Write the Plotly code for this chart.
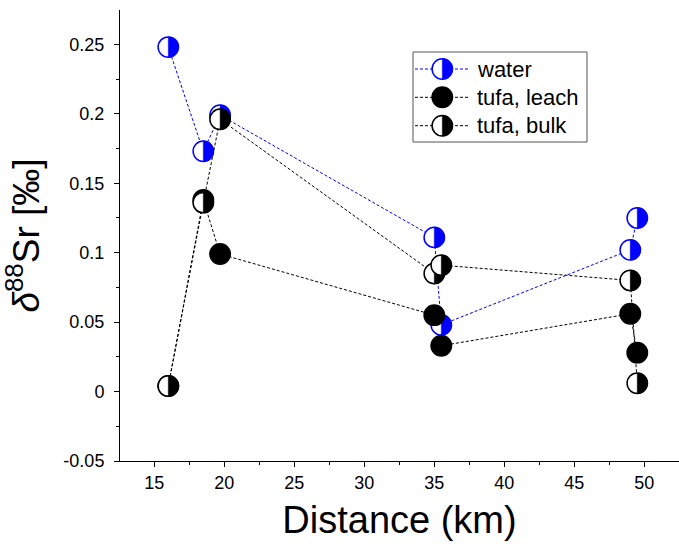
import plotly.graph_objects as go

# ---- data ----
distance_km = [16, 18.5, 19.7, 35, 35.5, 49, 49.5]
water = [0.248, 0.173, 0.199, 0.111, 0.048, 0.102, 0.125]
tufa_leach = [0.004, 0.138, 0.099, 0.055, 0.033, 0.056, 0.028]
tufa_bulk = [0.004, 0.136, 0.196, 0.085, 0.091, 0.080, 0.006]

series_names = ["water", "tufa, leach", "tufa, bulk"]
series_values = [water, tufa_leach, tufa_bulk]
series_colors = ["#0000FF", "#000000", "#000000"]
series_style = ["half", "full", "half"]

x_tickvals = [15, 20, 25, 30, 35, 40, 45, 50]
x_ticktext = ["15", "20", "25", "30", "35", "40", "45", "50"]
y_tickvals = [-0.05, 0, 0.05, 0.1, 0.15, 0.2, 0.25]
y_ticktext = ["-0.05", "0", "0.05", "0.1", "0.15", "0.2", "0.25"]

# ---- layout geometry ----
W, H = 679, 549
ML, MR, MT, MB = 120, 0, 10, 88
PW, PH = W - ML - MR, H - MT - MB
FONT = "Liberation Sans, Arial, sans-serif"
R = 10.2          # marker radius (px)
LW = 1.5          # marker outline width
DASH = "3px,2px"


def px_x(px):
    return (px - ML) / PW


def px_y(py):
    return (H - MB - py) / PH


def marker_shapes(xa, ya, xref, yref, color, style):
    k = 0.5523 * R
    out = []
    fill = color if style == "full" else "white"
    out.append(dict(type="circle", xref=xref, yref=yref,
                    xsizemode="pixel", ysizemode="pixel",
                    xanchor=xa, yanchor=ya, x0=-R, x1=R, y0=-R, y1=R,
                    fillcolor=fill, line=dict(color=color, width=LW),
                    layer="above"))
    if style == "half":
        path = (f"M0,{-R} C{k},{-R} {R},{-k} {R},0 "
                f"C{R},{k} {k},{R} 0,{R} Z")
        out.append(dict(type="path", xref=xref, yref=yref,
                        xsizemode="pixel", ysizemode="pixel",
                        xanchor=xa, yanchor=ya, path=path,
                        fillcolor=color, line=dict(color=color, width=0.5),
                        layer="above"))
    return out


fig = go.Figure()
shapes = []
annotations = []

for name, vals, col, sty in zip(series_names, series_values, series_colors, series_style):
    fig.add_trace(go.Scatter(
        x=distance_km, y=vals, name=name, mode="lines+markers",
        line=dict(color=col, width=1, dash=DASH),
        marker=dict(size=16, color=col, symbol="circle"),
        showlegend=False, cliponaxis=False,
    ))
    for xv, yv in zip(distance_km, vals):
        shapes += marker_shapes(xv, yv, "x", "y", col, sty)

# ---- hand-built legend (half-filled symbols) ----
box_l, box_r, box_t, box_b = 413, 587, 52, 142
shapes.append(dict(type="rect", xref="paper", yref="paper",
                   x0=px_x(box_l), x1=px_x(box_r), y0=px_y(box_b), y1=px_y(box_t),
                   fillcolor="white", line=dict(color="#555555", width=1),
                   layer="above"))
row_y = [69, 97.3, 125.7]
for name, col, sty, ry in zip(series_names, series_colors, series_style, row_y):
    shapes.append(dict(type="line", xref="paper", yref="paper",
                       x0=px_x(415), x1=px_x(469), y0=px_y(ry), y1=px_y(ry),
                       line=dict(color=col, width=1, dash=DASH), layer="above"))
    shapes += marker_shapes(px_x(442.3), px_y(ry), "paper", "paper", col, sty)
    annotations.append(dict(xref="paper", yref="paper", x=px_x(475), y=px_y(ry),
                            xanchor="left", yanchor="middle", showarrow=False,
                            text=name, font=dict(family=FONT, size=22, color="black")))

fig.update_layout(
    width=W, height=H,
    margin=dict(l=ML, r=MR, t=MT, b=MB, pad=0),
    paper_bgcolor="white", plot_bgcolor="white",
    font=dict(family=FONT, color="black"),
    shapes=shapes, annotations=annotations,
    showlegend=False,
)

fig.update_xaxes(
    range=[12.55, 52.48], tickvals=x_tickvals, ticktext=x_ticktext,
    showline=True, linecolor="black", linewidth=1, mirror=False,
    ticks="outside", ticklen=5, tickwidth=1, tickcolor="black",
    minor=dict(tickmode="linear", tick0=0, dtick=2.5, ticks="outside",
               ticklen=3, tickcolor="black", showgrid=False),
    showgrid=False, zeroline=False,
    tickfont=dict(family=FONT, size=18, color="black"),
    title=dict(text="Distance (km)", font=dict(family=FONT, size=38, color="black"),
               standoff=14),
)
fig.update_yaxes(
    range=[-0.05, 0.2747], tickvals=y_tickvals, ticktext=y_ticktext,
    showline=True, linecolor="black", linewidth=1, mirror=False,
    ticks="outside", ticklen=5, tickwidth=1, tickcolor="black",
    minor=dict(tickmode="linear", tick0=0, dtick=0.025, ticks="outside",
               ticklen=3, tickcolor="black", showgrid=False),
    showgrid=False, zeroline=False, ticklabelstandoff=6,
    tickfont=dict(family=FONT, size=18, color="black"),
    title=dict(text="<i>δ</i><sup>88</sup>Sr [‰]",
               font=dict(family=FONT, size=37, color="black"), standoff=12),
)

fig.write_html("out.html")
